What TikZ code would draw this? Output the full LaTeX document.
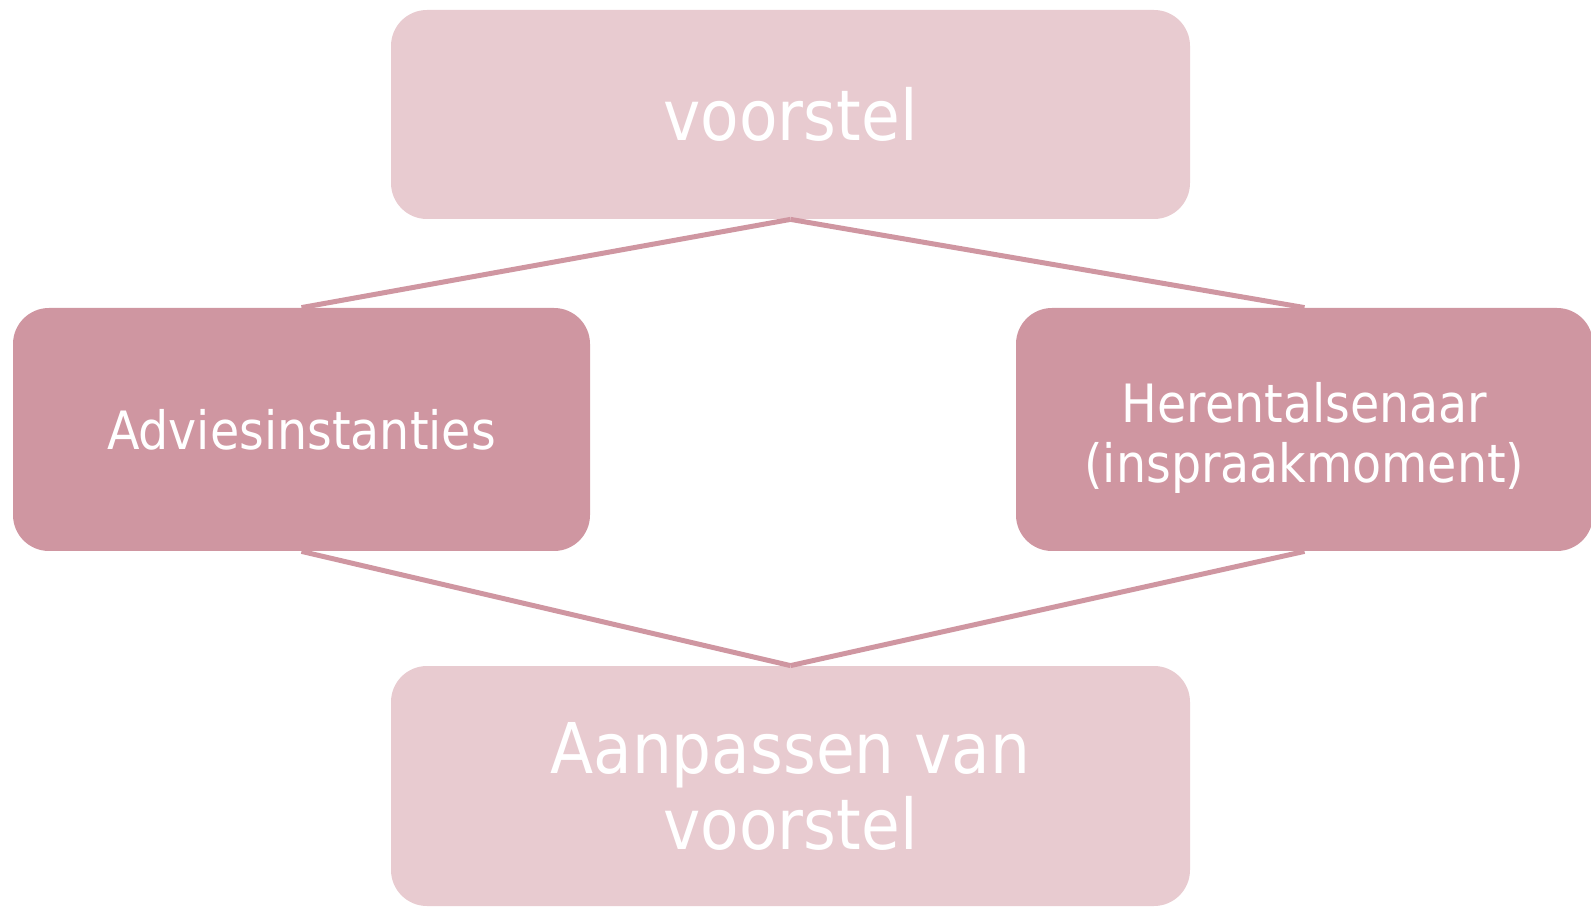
\documentclass[tikz,border=0pt]{standalone}
\usepackage{fontspec}
\setmainfont{DejaVu Sans Condensed}
\usepackage{tikz}
\usetikzlibrary{positioning}

\definecolor{lichtroze}{HTML}{E8CBD0}
\definecolor{donkerroze}{HTML}{CF96A1}

\begin{document}
\begin{tikzpicture}[x=1pt, y=1pt, every node/.style={rounded corners=18pt, text=white, align=center, inner sep=0pt}]

\useasboundingbox (0,0) rectangle (795.5,453);

\node (voorstel) [fill=lichtroze, minimum width=399.5pt, minimum height=104.5pt, font=\fontsize{35}{38}\selectfont] at (395.25,395.75) {voorstel};
\node (advies) [fill=donkerroze, minimum width=288.5pt, minimum height=121.5pt, font=\fontsize{26.4}{29}\selectfont] at (150.75,238.25) {Adviesinstanties};
\node (inspraak) [fill=donkerroze, minimum width=288.5pt, minimum height=121.5pt, font=\fontsize{26.4}{30}\selectfont] at (652.25,238.25) {\rule{0pt}{28pt}Herentalsenaar\\(inspraakmoment)};
\node (aanpassen) [fill=lichtroze, minimum width=399.5pt, minimum height=120pt, font=\fontsize{35}{38}\selectfont] at (395.25,60) {Aanpassen van\\voorstel};

\draw [donkerroze, line width=2.5pt] (voorstel.south) -- (advies.north);
\draw [donkerroze, line width=2.5pt] (voorstel.south) -- (inspraak.north);
\draw [donkerroze, line width=2.5pt] (advies.south) -- (aanpassen.north);
\draw [donkerroze, line width=2.5pt] (inspraak.south) -- (aanpassen.north);

\end{tikzpicture}
\end{document}
